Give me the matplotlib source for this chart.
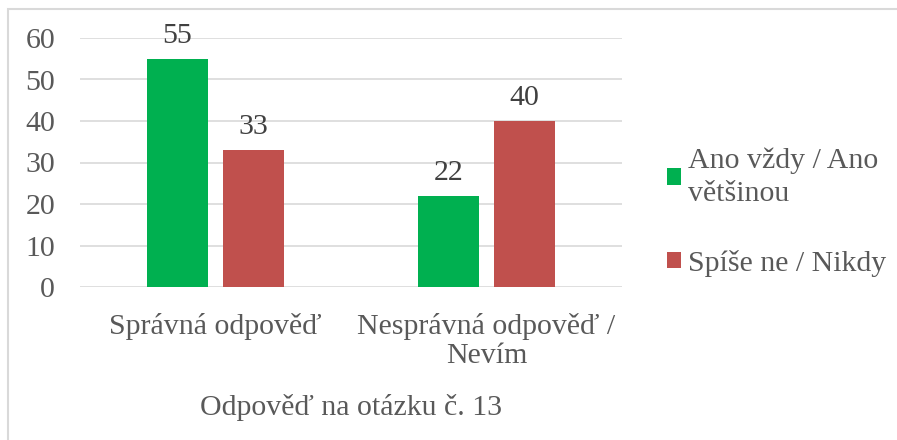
import matplotlib
matplotlib.use("Agg")
import matplotlib.pyplot as plt
from matplotlib import font_manager
from matplotlib.font_manager import FontProperties
from matplotlib.patches import Rectangle
import numpy as np

categories = ["Správná odpověď", "Nesprávná odpověď /\nNevím"]
series_names = ["Ano vždy / Ano\nvětšinou", "Spíše ne / Nikdy"]
ano = [55, 22]
ne = [33, 40]
yticks = [0, 10, 20, 30, 40, 50, 60]
xlabel = "Odpověď na otázku č. 13"

colors = ["#00B050", "#C0504D"]
txt = "#595959"
FS = 21.5
path = font_manager.findfont(FontProperties(family='Liberation Serif'))
FP = FontProperties(fname=path, size=FS)
plt.rcParams['font.family'] = 'serif'
plt.rcParams['font.serif'] = ['Liberation Serif', 'DejaVu Serif']

W, H = 897, 440
fig = plt.figure(figsize=(W / 100, H / 100), dpi=100)

# outer chart border
fig.patches.append(Rectangle((8 / W, -0.1), 1.0, 1 - 9 / H + 0.1, transform=fig.transFigure,
                             fill=False, edgecolor="#D9D9D9", linewidth=1.5))

ax = fig.add_axes([80 / W, 1 - 287 / H, 542 / W, 249 / H])
x = np.arange(len(categories))
w = 0.226
off = 0.141
b1 = ax.bar(x - off, ano, w, color=colors[0], label=series_names[0], zorder=3)
b2 = ax.bar(x + off, ne, w, color=colors[1], label=series_names[1], zorder=3)

for bars, vals in ((b1, ano), (b2, ne)):
    for r, v in zip(bars, vals):
        ax.annotate(str(v), (r.get_x() + r.get_width() / 2, v), xytext=(0, 7),
                    textcoords="offset points", ha="center", va="bottom",
                    fontproperties=FP, color="#404040")

ax.set_xlim(-0.5, 1.5)
ax.set_ylim(0, 60)
ax.set_yticks(yticks)
ax.set_yticklabels([str(t) for t in yticks], fontproperties=FP, color=txt)
ax.set_xticks(x)
ax.set_xticklabels(categories, fontproperties=FP, color=txt, linespacing=1.13)
ax.tick_params(axis="y", length=0, pad=18)
ax.tick_params(axis="x", length=0, pad=19)
ax.grid(axis="y", color="#D9D9D9", linewidth=1.2, zorder=0)
for s in ax.spines.values():
    s.set_visible(False)
ax.set_xlabel(xlabel, fontproperties=FP, color=txt, labelpad=18)

leg = fig.legend(handles=[b1, b2], labels=series_names, loc="center left",
                 bbox_to_anchor=(640 / W, 1 - 212 / H), frameon=False,
                 prop=FP, handlelength=0.47, handleheight=0.47, handletextpad=0.23,
                 labelspacing=1.42, labelcolor=txt)
for t in leg.get_texts():
    t.set_linespacing(1.38)

fig.savefig("out.png", dpi=100)
